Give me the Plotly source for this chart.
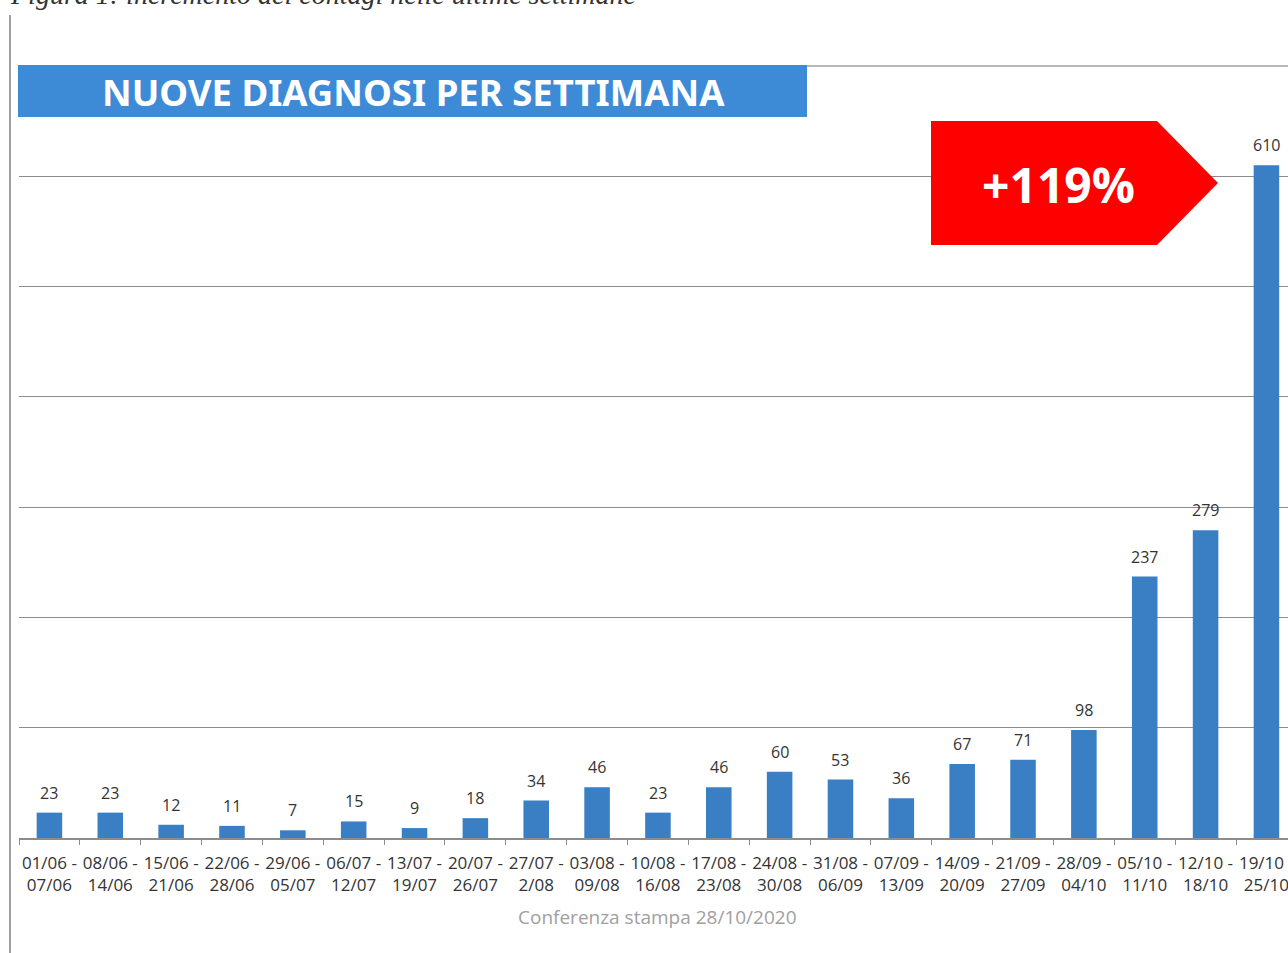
import plotly.graph_objects as go

start_dates = ["01/06", "08/06", "15/06", "22/06", "29/06", "06/07", "13/07", "20/07",
               "27/07", "03/08", "10/08", "17/08", "24/08", "31/08", "07/09", "14/09",
               "21/09", "28/09", "05/10", "12/10", "19/10"]
end_dates = ["07/06", "14/06", "21/06", "28/06", "05/07", "12/07", "19/07", "26/07",
             "2/08", "09/08", "16/08", "23/08", "30/08", "06/09", "13/09", "20/09",
             "27/09", "04/10", "11/10", "18/10", "25/10"]
new_cases = [23, 23, 12, 11, 7, 15, 9, 18, 34, 46, 23, 46, 60, 53, 36, 67, 71, 98, 237, 279, 610]

categories = [f"{s} -<br>{e}" for s, e in zip(start_dates, end_dates)]

W, H = 1288, 953
L, R, T, B = 19, 0, 120, 115
PW, PH = W - L - R, H - T - B
PX_PER_CAT = 60.85
PX_PER_UNIT = 110.3 / 100

def px(x):
    return (x - L) / PW

def py(y):
    return (H - B - y) / PH

fig = go.Figure()
fig.add_trace(go.Bar(
    x=categories, y=new_cases,
    marker=dict(color="#3a7fc4", line=dict(width=0)),
    width=0.42,
    hoverinfo="x+y",
))

value_labels = [
    dict(x=c, y=v, xref="x", yref="y", text=str(v), showarrow=False,
         xanchor="center", yanchor="bottom", yshift=7,
         font=dict(family="Open Sans", size=16, color="#333333"))
    for c, v in zip(categories, new_cases)
]

fig.update_layout(
    width=W, height=H,
    margin=dict(l=L, r=R, t=T, b=B, autoexpand=False),
    paper_bgcolor="white", plot_bgcolor="white",
    showlegend=False,
    bargap=0.58,
    xaxis=dict(
        range=[-0.5, -0.5 + PW / PX_PER_CAT],
        showline=True, linecolor="#8c8c8c", linewidth=1.5,
        ticks="outside", tickson="boundaries", ticklen=5, tickcolor="#8c8c8c",
        tickfont=dict(family="Open Sans", size=17, color="#333333"),
        ticklabelstandoff=9,
        tickangle=0, showgrid=False, automargin=False,
    ),
    yaxis=dict(
        range=[0, PH / PX_PER_UNIT],
        showticklabels=False, showgrid=True, gridcolor="#8c8c8c", gridwidth=1,
        dtick=100, zeroline=False, ticks="", automargin=False,
    ),
    shapes=[
        # page border line on the left
        dict(type="line", xref="paper", yref="paper", x0=px(10), x1=px(10), y0=py(15), y1=py(953),
             line=dict(color="#a0a0a0", width=2)),
        # title banner
        dict(type="rect", xref="paper", yref="paper", x0=px(18), x1=px(807), y0=py(117), y1=py(65),
             fillcolor="#3d8bd6", line=dict(width=0), layer="above"),
        dict(type="line", xref="paper", yref="paper", x0=px(807), x1=px(1288), y0=py(66), y1=py(66),
             line=dict(color="#a0a0a0", width=1.5)),
        # red arrow
        dict(type="path", xref="paper", yref="paper",
             path=(f"M {px(931)} {py(121)} L {px(1157)} {py(121)} L {px(1218)} {py(183)} "
                   f"L {px(1157)} {py(245)} L {px(931)} {py(245)} Z"),
             fillcolor="#ff0000", line=dict(width=0), layer="above"),
    ],
    annotations=value_labels + [
        dict(text="NUOVE DIAGNOSI PER SETTIMANA", xref="paper", yref="paper",
             x=px(413), y=py(92), xanchor="center", yanchor="middle", showarrow=False,
             font=dict(family="Noto Sans", size=36.5, color="white", weight="bold")),
        dict(text="+119%", xref="paper", yref="paper",
             x=px(1058), y=py(184), xanchor="center", yanchor="middle", showarrow=False,
             font=dict(family="Open Sans", size=48, color="white", weight="bold")),
        dict(text="Conferenza stampa 28/10/2020", xref="paper", yref="paper",
             x=px(658), y=py(917), xanchor="center", yanchor="middle", showarrow=False,
             font=dict(family="Open Sans", size=19, color="#a0a0a0")),
        dict(text="<i>Figura 1: incremento dei contagi nelle ultime settimane</i>", xref="paper", yref="paper",
             x=px(8), y=py(-5), xanchor="left", yanchor="middle", showarrow=False,
             font=dict(family="Liberation Serif", size=28, color="#333333")),
    ],
)

fig.write_html(
    "out.html",
    config={"displayModeBar": False},
    post_script="document.body.style.margin='0';document.body.style.overflow='hidden';",
)
